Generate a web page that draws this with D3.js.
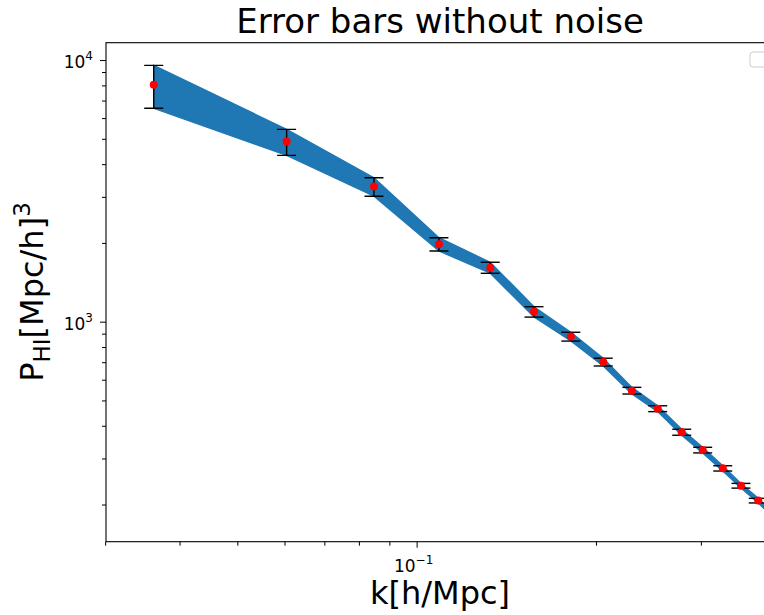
<!DOCTYPE html>
<html>
<head>
<meta charset="utf-8">
<script src="https://cdn.jsdelivr.net/npm/d3@7"></script>
<style>
  body { margin: 0; background: #ffffff; }
  svg { display: block; font-family: "DejaVu Sans", sans-serif; }
</style>
</head>
<body>
<svg id="chart" width="764" height="615"></svg>
<script>
// -----------------------------------------------------------------------------
// data

var kValues = [
  0.0362, 0.0605, 0.0848, 0.1090, 0.1329, 0.1574, 0.1815, 0.2057,
  0.2298, 0.2539, 0.2786, 0.3021, 0.3265, 0.3503, 0.3745, 0.3987
];
var powerValues = [
  8041, 4879, 3283, 1978, 1609, 1091, 877, 701,
  545, 465, 378, 323, 275, 236, 207, 180
];
var errorValues = [
  1502, 556, 268, 116, 78, 50, 34, 24,
  16, 12, 10, 8, 6.4, 4.9, 4.2, 3.6
];

var xMajorTicks = [0.1];
var xMajorTickExponents = ['\u22121'];
var xMinorTicks = [0.03, 0.04, 0.05, 0.06, 0.07, 0.08, 0.09, 0.2, 0.3];

var yMajorTicks = [1000, 10000];
var yMajorTickExponents = ['3', '4'];
var yMinorTicks = [
  200, 300, 400, 500, 600, 700, 800, 900,
  2000, 3000, 4000, 5000, 6000, 7000, 8000, 9000
];

var titleText = 'Error bars without noise';
var xLabelText = 'k[h/Mpc]';

// -----------------------------------------------------------------------------

var plotLeft = 106;
var plotRight = 774;
var plotTop = 42.7;
var plotBottom = 541.7;
var bandColor = '#1f77b4';

var points = kValues.map(function (k, i) {
  return { k: k, p: powerValues[i], e: errorValues[i] };
});

var x = d3.scaleLog()
  .domain([0.0301, 0.398])
  .range([plotLeft, plotRight]);

var y = d3.scaleLog()
  .domain([144.2, 11650])
  .range([plotBottom, plotTop]);

var svg = d3.select('#chart');

// - - - - - - - - - - - - - - - - - - - - - - - - - - - - - - - - - - - - - - -

svg.append('defs')
  .append('clipPath')
  .attr('id', 'plot-clip')
  .append('rect')
  .attr('x', plotLeft)
  .attr('y', plotTop)
  .attr('width', plotRight - plotLeft)
  .attr('height', plotBottom - plotTop);

var gPlot = svg.append('g')
  .attr('clip-path', 'url(#plot-clip)');

// band = value +/- error
var band = d3.area()
  .x(function (d) { return x(d.k); })
  .y0(function (d) { return y(d.p - d.e); })
  .y1(function (d) { return y(d.p + d.e); });

gPlot.selectAll('path.band')
  .data([points])
  .join('path')
  .classed('band', true)
  .attr('d', band)
  .attr('fill', bandColor)
  .attr('stroke', bandColor)
  .attr('stroke-width', 1.3);

// error bars
var capHalf = 9.5;
var gBars = gPlot.selectAll('g.err')
  .data(points)
  .join('g')
  .classed('err', true)
  .attr('stroke', '#000000')
  .attr('stroke-width', 1.4);

gBars.append('line')
  .attr('x1', function (d) { return x(d.k); })
  .attr('x2', function (d) { return x(d.k); })
  .attr('y1', function (d) { return y(d.p - d.e); })
  .attr('y2', function (d) { return y(d.p + d.e); });

gBars.selectAll('line.cap')
  .data(function (d) { return [d.p - d.e, d.p + d.e].map(function (v) { return { k: d.k, v: v }; }); })
  .join('line')
  .classed('cap', true)
  .attr('x1', function (d) { return x(d.k) - capHalf; })
  .attr('x2', function (d) { return x(d.k) + capHalf; })
  .attr('y1', function (d) { return y(d.v); })
  .attr('y2', function (d) { return y(d.v); });

// dots
gPlot.selectAll('circle.dot')
  .data(points)
  .join('circle')
  .classed('dot', true)
  .attr('cx', function (d) { return x(d.k); })
  .attr('cy', function (d) { return y(d.p); })
  .attr('r', 4)
  .attr('fill', '#ff0000');

// - - - - - - - - - - - - - - - - - - - - - - - - - - - - - - - - - - - - - - -
// axes

var gxMajor = svg.append('g')
  .attr('transform', 'translate(0,' + plotBottom + ')')
  .call(d3.axisBottom(x).tickValues(xMajorTicks).tickSize(6).tickFormat(''));
var gxMinor = svg.append('g')
  .attr('transform', 'translate(0,' + plotBottom + ')')
  .call(d3.axisBottom(x).tickValues(xMinorTicks).tickSize(4).tickFormat(''));
var gyMajor = svg.append('g')
  .attr('transform', 'translate(' + plotLeft + ',0)')
  .call(d3.axisLeft(y).tickValues(yMajorTicks).tickSize(6).tickFormat(''));
var gyMinor = svg.append('g')
  .attr('transform', 'translate(' + plotLeft + ',0)')
  .call(d3.axisLeft(y).tickValues(yMinorTicks).tickSize(4).tickFormat(''));

[gxMajor, gxMinor, gyMajor, gyMinor].forEach(function (g) {
  g.select('.domain').remove();
  g.selectAll('.tick line').attr('stroke', '#000000').attr('stroke-width', 1);
});

svg.append('rect')
  .attr('x', plotLeft)
  .attr('y', plotTop)
  .attr('width', plotRight - plotLeft)
  .attr('height', plotBottom - plotTop)
  .attr('fill', 'none')
  .attr('stroke', '#000000')
  .attr('stroke-width', 1.1);

// tick labels with superscripts
var xTickText = svg.selectAll('text.xtick')
  .data(xMajorTicks)
  .join('text')
  .classed('xtick', true)
  .attr('x', function (d) { return x(d) - 3; })
  .attr('y', plotBottom + 30)
  .attr('text-anchor', 'middle')
  .attr('font-size', 17)
  .attr('fill', '#000000');
xTickText.append('tspan').text('10');
xTickText.append('tspan')
  .attr('dy', -8)
  .attr('font-size', 12)
  .text(function (d, i) { return xMajorTickExponents[i]; });

var yTickText = svg.selectAll('text.ytick')
  .data(yMajorTicks)
  .join('text')
  .classed('ytick', true)
  .attr('x', plotLeft - 13)
  .attr('y', function (d) { return y(d) + 8; })
  .attr('text-anchor', 'end')
  .attr('font-size', 17)
  .attr('fill', '#000000');
yTickText.append('tspan').text('10');
yTickText.append('tspan')
  .attr('dy', -8)
  .attr('font-size', 12)
  .text(function (d, i) { return yMajorTickExponents[i]; });

// - - - - - - - - - - - - - - - - - - - - - - - - - - - - - - - - - - - - - - -
// titles

svg.append('text')
  .attr('x', (plotLeft + plotRight) / 2)
  .attr('y', 33)
  .attr('text-anchor', 'middle')
  .attr('font-size', 34)
  .attr('fill', '#000000')
  .text(titleText);

svg.append('text')
  .attr('x', (plotLeft + plotRight) / 2)
  .attr('y', 604)
  .attr('text-anchor', 'middle')
  .attr('font-size', 32)
  .attr('fill', '#000000')
  .text(xLabelText);

var yLabel = svg.append('text')
  .attr('transform', 'translate(43,' + 292 + ') rotate(-90)')
  .attr('text-anchor', 'middle')
  .attr('font-size', 32)
  .attr('fill', '#000000');
yLabel.append('tspan').text('P');
yLabel.append('tspan').attr('dy', 7).attr('font-size', 23).text('HI');
yLabel.append('tspan').attr('dy', -7).text('[Mpc/h]');
yLabel.append('tspan').attr('dy', -13).attr('font-size', 23).text('3');

// empty legend frame
svg.append('rect')
  .attr('x', 750)
  .attr('y', 52)
  .attr('width', 17)
  .attr('height', 15)
  .attr('rx', 3)
  .attr('fill', '#ffffff')
  .attr('fill-opacity', 0.8)
  .attr('stroke', '#cccccc')
  .attr('stroke-width', 1);
</script>
</body>
</html>
